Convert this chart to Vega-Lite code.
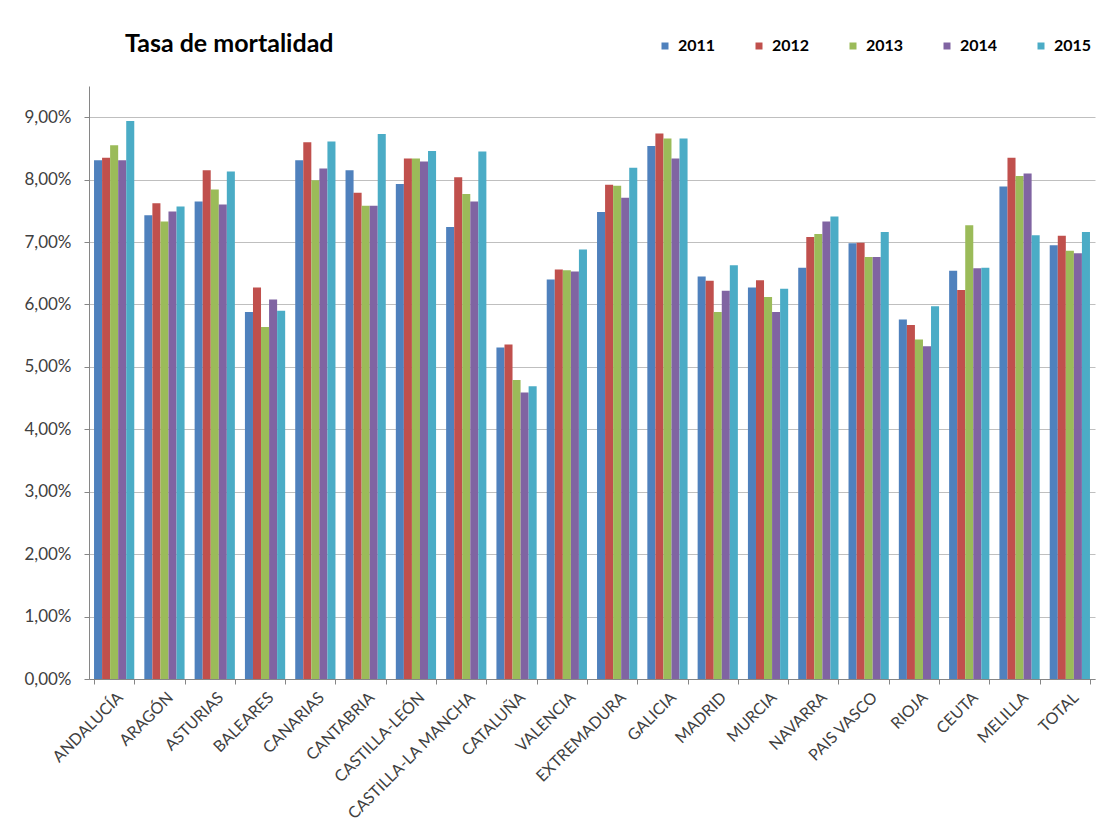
{
  "$schema": "https://vega.github.io/schema/vega-lite/v6.json",
  "width": 1006,
  "height": 593,
  "autosize": {"type": "none"},
  "padding": {"left": 89, "top": 86, "right": 14, "bottom": 158},
  "background": "white",
  "title": {"text": "Tasa de mortalidad", "anchor": "start", "frame": "group", "dx": 36, "offset": -19, "fontSize": 25, "font": "Lato", "fontWeight": "bold", "color": "#000000"},
  "datasets": {
    "rates": [
      {"region": "ANDALUCÍA", "year": "2011", "value": 0.0831},
      {"region": "ANDALUCÍA", "year": "2012", "value": 0.0835},
      {"region": "ANDALUCÍA", "year": "2013", "value": 0.0855},
      {"region": "ANDALUCÍA", "year": "2014", "value": 0.0831},
      {"region": "ANDALUCÍA", "year": "2015", "value": 0.0894},
      {"region": "ARAGÓN", "year": "2011", "value": 0.0743},
      {"region": "ARAGÓN", "year": "2012", "value": 0.0762},
      {"region": "ARAGÓN", "year": "2013", "value": 0.0733},
      {"region": "ARAGÓN", "year": "2014", "value": 0.0749},
      {"region": "ARAGÓN", "year": "2015", "value": 0.0757},
      {"region": "ASTURIAS", "year": "2011", "value": 0.0765},
      {"region": "ASTURIAS", "year": "2012", "value": 0.0815},
      {"region": "ASTURIAS", "year": "2013", "value": 0.0784},
      {"region": "ASTURIAS", "year": "2014", "value": 0.0760},
      {"region": "ASTURIAS", "year": "2015", "value": 0.0813},
      {"region": "BALEARES", "year": "2011", "value": 0.0588},
      {"region": "BALEARES", "year": "2012", "value": 0.0627},
      {"region": "BALEARES", "year": "2013", "value": 0.0564},
      {"region": "BALEARES", "year": "2014", "value": 0.0608},
      {"region": "BALEARES", "year": "2015", "value": 0.0590},
      {"region": "CANARIAS", "year": "2011", "value": 0.0831},
      {"region": "CANARIAS", "year": "2012", "value": 0.0860},
      {"region": "CANARIAS", "year": "2013", "value": 0.0799},
      {"region": "CANARIAS", "year": "2014", "value": 0.0818},
      {"region": "CANARIAS", "year": "2015", "value": 0.0861},
      {"region": "CANTABRIA", "year": "2011", "value": 0.0815},
      {"region": "CANTABRIA", "year": "2012", "value": 0.0779},
      {"region": "CANTABRIA", "year": "2013", "value": 0.0758},
      {"region": "CANTABRIA", "year": "2014", "value": 0.0758},
      {"region": "CANTABRIA", "year": "2015", "value": 0.0873},
      {"region": "CASTILLA-LEÓN", "year": "2011", "value": 0.0793},
      {"region": "CASTILLA-LEÓN", "year": "2012", "value": 0.0834},
      {"region": "CASTILLA-LEÓN", "year": "2013", "value": 0.0834},
      {"region": "CASTILLA-LEÓN", "year": "2014", "value": 0.0829},
      {"region": "CASTILLA-LEÓN", "year": "2015", "value": 0.0846},
      {"region": "CASTILLA-LA MANCHA", "year": "2011", "value": 0.0724},
      {"region": "CASTILLA-LA MANCHA", "year": "2012", "value": 0.0804},
      {"region": "CASTILLA-LA MANCHA", "year": "2013", "value": 0.0777},
      {"region": "CASTILLA-LA MANCHA", "year": "2014", "value": 0.0765},
      {"region": "CASTILLA-LA MANCHA", "year": "2015", "value": 0.0845},
      {"region": "CATALUÑA", "year": "2011", "value": 0.0531},
      {"region": "CATALUÑA", "year": "2012", "value": 0.0536},
      {"region": "CATALUÑA", "year": "2013", "value": 0.0479},
      {"region": "CATALUÑA", "year": "2014", "value": 0.0459},
      {"region": "CATALUÑA", "year": "2015", "value": 0.0469},
      {"region": "VALENCIA", "year": "2011", "value": 0.0640},
      {"region": "VALENCIA", "year": "2012", "value": 0.0656},
      {"region": "VALENCIA", "year": "2013", "value": 0.0655},
      {"region": "VALENCIA", "year": "2014", "value": 0.0653},
      {"region": "VALENCIA", "year": "2015", "value": 0.0688},
      {"region": "EXTREMADURA", "year": "2011", "value": 0.0748},
      {"region": "EXTREMADURA", "year": "2012", "value": 0.0792},
      {"region": "EXTREMADURA", "year": "2013", "value": 0.0790},
      {"region": "EXTREMADURA", "year": "2014", "value": 0.0771},
      {"region": "EXTREMADURA", "year": "2015", "value": 0.0819},
      {"region": "GALICIA", "year": "2011", "value": 0.0854},
      {"region": "GALICIA", "year": "2012", "value": 0.0874},
      {"region": "GALICIA", "year": "2013", "value": 0.0866},
      {"region": "GALICIA", "year": "2014", "value": 0.0834},
      {"region": "GALICIA", "year": "2015", "value": 0.0866},
      {"region": "MADRID", "year": "2011", "value": 0.0645},
      {"region": "MADRID", "year": "2012", "value": 0.0638},
      {"region": "MADRID", "year": "2013", "value": 0.0588},
      {"region": "MADRID", "year": "2014", "value": 0.0622},
      {"region": "MADRID", "year": "2015", "value": 0.0663},
      {"region": "MURCIA", "year": "2011", "value": 0.0627},
      {"region": "MURCIA", "year": "2012", "value": 0.0639},
      {"region": "MURCIA", "year": "2013", "value": 0.0612},
      {"region": "MURCIA", "year": "2014", "value": 0.0588},
      {"region": "MURCIA", "year": "2015", "value": 0.0625},
      {"region": "NAVARRA", "year": "2011", "value": 0.0659},
      {"region": "NAVARRA", "year": "2012", "value": 0.0708},
      {"region": "NAVARRA", "year": "2013", "value": 0.0713},
      {"region": "NAVARRA", "year": "2014", "value": 0.0733},
      {"region": "NAVARRA", "year": "2015", "value": 0.0741},
      {"region": "PAIS VASCO", "year": "2011", "value": 0.0698},
      {"region": "PAIS VASCO", "year": "2012", "value": 0.0699},
      {"region": "PAIS VASCO", "year": "2013", "value": 0.0676},
      {"region": "PAIS VASCO", "year": "2014", "value": 0.0676},
      {"region": "PAIS VASCO", "year": "2015", "value": 0.0716},
      {"region": "RIOJA", "year": "2011", "value": 0.0576},
      {"region": "RIOJA", "year": "2012", "value": 0.0567},
      {"region": "RIOJA", "year": "2013", "value": 0.0544},
      {"region": "RIOJA", "year": "2014", "value": 0.0533},
      {"region": "RIOJA", "year": "2015", "value": 0.0597},
      {"region": "CEUTA", "year": "2011", "value": 0.0654},
      {"region": "CEUTA", "year": "2012", "value": 0.0623},
      {"region": "CEUTA", "year": "2013", "value": 0.0727},
      {"region": "CEUTA", "year": "2014", "value": 0.0658},
      {"region": "CEUTA", "year": "2015", "value": 0.0659},
      {"region": "MELILLA", "year": "2011", "value": 0.0789},
      {"region": "MELILLA", "year": "2012", "value": 0.0835},
      {"region": "MELILLA", "year": "2013", "value": 0.0806},
      {"region": "MELILLA", "year": "2014", "value": 0.0810},
      {"region": "MELILLA", "year": "2015", "value": 0.0711},
      {"region": "TOTAL", "year": "2011", "value": 0.0695},
      {"region": "TOTAL", "year": "2012", "value": 0.0710},
      {"region": "TOTAL", "year": "2013", "value": 0.0686},
      {"region": "TOTAL", "year": "2014", "value": 0.0682},
      {"region": "TOTAL", "year": "2015", "value": 0.0716}
    ]
  },
  "data": {"name": "rates"},
  "mark": {"type": "bar"},
  "encoding": {
    "x": {
      "field": "region", "type": "nominal", "sort": null,
      "scale": {"paddingInner": 0.2, "paddingOuter": 0.1},
      "axis": {
        "title": null, "labelAngle": -45, "labelFont": "Lato", "labelFontSize": 16, "labelLimit": 400,
        "labelColor": "#404040", "tickBand": "extent", "tickSize": 5,
        "tickColor": "#868686", "domainColor": "#868686", "labelPadding": 5, "grid": false
      }
    },
    "xOffset": {"field": "year", "type": "nominal", "scale": {"paddingInner": 0, "paddingOuter": 0}},
    "y": {
      "field": "value", "type": "quantitative",
      "scale": {"domain": [0, 0.095], "nice": false},
      "axis": {
        "title": null, "values": [0, 0.01, 0.02, 0.03, 0.04, 0.05, 0.06, 0.07, 0.08, 0.09],
        "labelExpr": "replace(format(datum.value, '.2%'), '.', ',')",
        "grid": true, "gridColor": "#BFBFBF", "gridWidth": 1.2,
        "domainColor": "#868686", "tickColor": "#868686", "tickSize": 5,
        "labelFont": "Lato", "labelFontSize": 17, "labelColor": "#404040", "labelPadding": 13
      }
    },
    "color": {
      "field": "year", "type": "nominal",
      "scale": {"domain": ["2011", "2012", "2013", "2014", "2015"], "range": ["#4F81BD", "#C0504D", "#9BBB59", "#8064A2", "#4BACC6"]},
      "legend": {
        "orient": "none", "legendX": 568, "legendY": -48, "direction": "horizontal", "columns": 5,
        "title": null, "symbolType": "square", "symbolSize": 49, "symbolStrokeWidth": 0,
        "labelFont": "Lato", "labelFontSize": 16, "labelFontWeight": "bold", "labelColor": "#000000",
        "labelOffset": 5, "columnPadding": 35
      }
    }
  },
  "config": {"view": {"stroke": null}}
}
